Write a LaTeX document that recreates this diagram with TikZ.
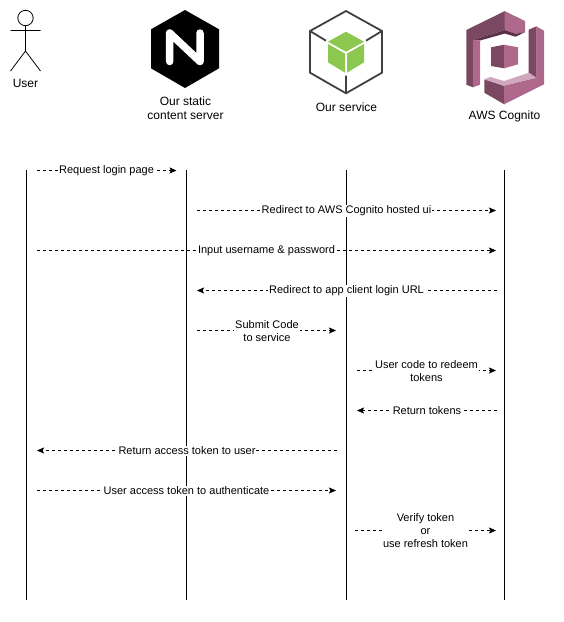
\documentclass[tikz,border=0pt]{standalone}
\usepackage{fontspec}
\setmainfont{Liberation Sans}
\usetikzlibrary{arrows.meta,positioning}
\definecolor{nodegreen}{RGB}{140,200,79}
\definecolor{nodegray}{RGB}{64,64,64}
\definecolor{cogdark}{RGB}{122,73,97}
\definecolor{coglight}{RGB}{173,104,140}
\definecolor{coghigh}{RGB}{208,168,190}
\definecolor{cogband}{RGB}{90,50,72}
\tikzset{
    lifeline/.style={black,line width=0.9pt},
    msgline/.style={black,line width=0.7pt,dash pattern=on 3pt off 3pt,-{Stealth[length=7pt,width=6pt,inset=1.5pt]}},
    msglabel/.style={fill=white,inner sep=0.8pt,font=\fontsize{11}{13}\selectfont,align=center,text=black},
    iconlabel/.style={inner sep=0pt,font=\fontsize{12}{14.5}\selectfont,align=center,text=black}
}
\begin{document}
\begin{tikzpicture}[x=1pt,y=-1pt]
    \useasboundingbox (0,0) rectangle (564,622);
    \fill[white] (0,0) rectangle (564,622);
    % Actor
    \draw[black,line width=0.8pt] (25.5,18) circle (7.7);
    \draw[black,line width=0.8pt] (25.5,25.7) -- (25.5,51) (10.5,30.5) -- (40.5,30.5)
        (10.5,71) -- (25.5,51) -- (40.5,71);
    % Nginx
    \fill[black] (185,10) -- (219,29.3) -- (219,68.3) -- (185,88) -- (151,68.3) -- (151,29.3) -- cycle;
    \draw[white,line width=7.5pt,line cap=round,line join=round] (169.7,61.5) -- (169.7,33) -- (200,61.5) -- (200,33);
    % Service cube
    \draw[nodegray,line width=1.8pt,line join=miter] (346,11) -- (382,31) -- (382,72.7) -- (346,93.3) -- (310,72.7) -- (310,31) -- cycle;
    \draw[nodegray,line width=1.8pt] (310,31) -- (326,40.7) (382,31) -- (366,40.7) (346,93.3) -- (346,75.7);
    \fill[nodegreen] (346,31.7) -- (364,41.7) -- (346,51.7) -- (328,41.7) -- cycle;
    \fill[nodegreen] (328,44) -- (345,53.5) -- (345,72.7) -- (328,62.3) -- cycle;
    \fill[nodegreen] (364,44) -- (347,53.5) -- (347,72.7) -- (364,62.3) -- cycle;
    % Cognito
    \fill[cogdark] (466.3,30) -- (505,11) -- (505,30) -- (473,40) -- (473,87.3) -- (466.3,84.7) -- cycle;
    \fill[cogband] (473,40) -- (505,30) -- (505,33.5) -- (480,40.5) -- cycle;
    \fill[coglight] (473,40) -- (480,40.5) -- (480,84.7) -- (473,87.3) -- cycle;
    \fill[coglight] (504.5,11) -- (525,21) -- (525,32) -- (515.5,33.8) -- (504.5,30) -- cycle;
    \fill[cogband] (504.5,30) -- (515.5,33.8) -- (525,32) -- (515.7,36.7) -- (504.5,33.5) -- cycle;
    \fill[cogdark] (528.7,29.7) -- (536.5,26.3) -- (536.5,79.5) -- (528.7,73) -- cycle;
    \fill[coglight] (536.3,26.3) -- (544,30.7) -- (544,84.5) -- (536.3,79.5) -- cycle;
    \fill[cogdark] (484.3,79.3) -- (504.3,86) -- (504.3,104.3) -- (484.3,92.7) -- cycle;
    \fill[coglight] (504,85.5) -- (536.3,77.7) -- (544,84.3) -- (504,104.3) -- cycle;
    \fill[coghigh] (484.3,79.3) -- (490.3,77) -- (504,81) -- (529,72.7) -- (536.3,77.7) -- (504,85.8) -- cycle;
    \fill[cogdark] (491,47.3) -- (504.3,44.7) -- (504.3,68.3) -- (491,66) -- cycle;
    \fill[coglight] (504,44.7) -- (518,47.3) -- (518,64.3) -- (504,68.3) -- cycle;
    % Icon labels
    \node[iconlabel] (userlabel) at (25.5,83.2) {User};
    \node[iconlabel] (staticlabel) at (185.5,108.2) {Our static\\content server};
    \node[iconlabel] (servicelabel) at (346.5,107.2) {Our service};
    \node[iconlabel] (cognitolabel) at (504.5,116.5) {AWS Cognito};
    % Lifelines
    \foreach \name/\xpos in {user/26.5,static/186.5,service/346.5,cognito/504.5} {
        \coordinate (\name top) at (\xpos,170);
        \coordinate (\name bot) at (\xpos,600);
        \draw[lifeline] (\name top) -- (\name bot);
    }
    % Messages
    \foreach \mname/\fromx/\tox/\ypos/\labx/\labtext in {
        reqlogin/36.5/176.5/170.5/106.5/{Request login page},
        redirect/196.5/496/210.5/346.5/{Redirect to AWS Cognito hosted ui},
        inputpw/36.5/496/250.5/266.5/{Input username \& password},
        redirback/496.5/197/290.5/346.5/{Redirect to app client login URL},
        submit/196.5/336/330.5/267/{Submit Code\\to service},
        redeem/356.5/496/370.5/426.5/{User code to redeem\\tokens},
        rettok/496.5/357/410.5/427/{Return tokens},
        retacc/336.5/37/450.5/187/{Return access token to user},
        useacc/36.5/336/490.5/186.5/{User access token to authenticate},
        verify/354.5/496/530.5/425.5/{Verify token\\or\\use refresh token}} {
        \coordinate (\mname a) at (\fromx,\ypos);
        \coordinate (\mname b) at (\tox,\ypos);
        \draw[msgline] (\mname a) -- (\mname b);
        \node[msglabel,yshift=-0.4pt] (\mname) at (\labx,\ypos) {\labtext};
    }
\end{tikzpicture}
\end{document}
